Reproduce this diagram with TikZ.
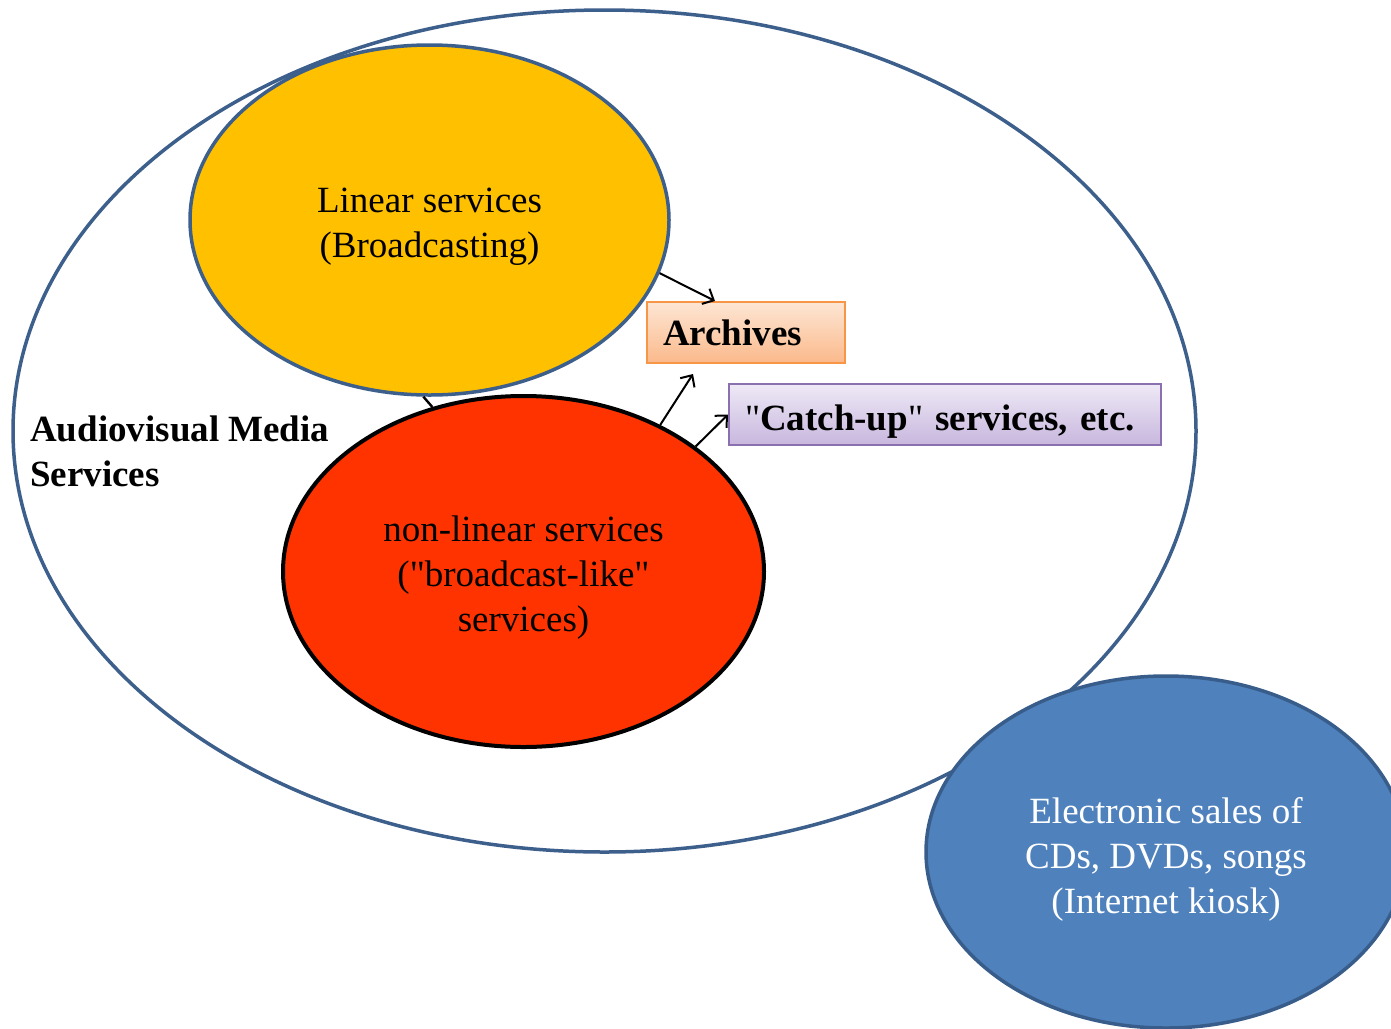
\documentclass[tikz,border=0pt]{standalone}
\usepackage{fontspec}
\setmainfont{Liberation Serif}
\usetikzlibrary{shapes.geometric,arrows.meta}
\definecolor{bigline}{HTML}{3C5F8C}
\definecolor{orangefill}{HTML}{FFC000}
\definecolor{redfill}{HTML}{FF3300}
\definecolor{bluefill}{HTML}{4F81BD}
\definecolor{blueline}{HTML}{385D8A}
\definecolor{archtop}{HTML}{FDE6D4}
\definecolor{archbot}{HTML}{FBB98B}
\definecolor{archline}{HTML}{F79646}
\definecolor{cutop}{HTML}{EEE9F6}
\definecolor{cubot}{HTML}{C8B7DE}
\definecolor{culine}{HTML}{8A70AE}
\tikzset{
  every node/.style={font=\fontsize{37}{45}\selectfont},
  ell/.style={ellipse, inner sep=0pt, line width=3.5pt},
  txt/.style={inner sep=0pt, align=center},
  labelbox/.style={rectangle, line width=2pt, minimum height=61pt, inner xsep=16pt, inner ysep=0pt, align=left, font=\fontsize{37}{45}\selectfont\bfseries},
  conn/.style={line width=2pt, -{Straight Barb[length=9pt,width=17pt,line width=2pt]}},
  plain/.style={line width=2.4pt}
}
\begin{document}
\begin{tikzpicture}[x=1pt,y=-1pt]
\clip (0,0) rectangle (1391,1028);
\fill[white] (0,0) rectangle (1391,1028);
% big ellipse
\node[ell, draw=bigline, fill=white, minimum width=1183pt, minimum height=842pt] (big) at (604.5,431) {};
% orange ellipse
\node[ell, draw=bigline, fill=orangefill, minimum width=479pt, minimum height=350pt] (linear) at (429.5,220) {};
\node[txt] (lineartext) at ([yshift=-7pt]linear.center) {Linear services\\(Broadcasting)};
% red ellipse
\node[ell, draw=black, line width=4pt, fill=redfill, minimum width=481pt, minimum height=351pt] (nonlinear) at (523.5,571.5) {};
\node[txt] (nonlineartext) at ([yshift=-6pt]nonlinear.center) {non-linear services\\(\textquotedbl broadcast-like\textquotedbl\\services)};
% blue ellipse
\node[ell, draw=blueline, fill=bluefill, minimum width=480pt, minimum height=352pt] (sales) at (1166,852) {};
\node[txt, text=white] (salestext) at ([yshift=-7pt]sales.center) {Electronic sales of\\CDs, DVDs, songs\\(Internet kiosk)};
% label
\node[anchor=west, inner sep=0pt, align=left, font=\fontsize{37}{45}\selectfont\bfseries] (avms) at (30,451) {Audiovisual Media\\Services};
% boxes
\node[labelbox, draw=archline, top color=archtop, bottom color=archbot, text width=166pt] (archives) at (746,332.5) {Archives};
\node[labelbox, draw=culine, top color=cutop, bottom color=cubot, text width=400pt, text height=31pt, text depth=0pt] (catchup) at (945,414.5) {{\mdseries\textquotedbl}Catch-up{\mdseries\textquotedbl} services, etc.};
% connectors
\coordinate (a1) at (715,301);
\coordinate (a2) at (693,374);
\draw[conn] (linear.-13.4) -- (a1);
\draw[conn] (nonlinear.47.9) -- (a2);
\draw[conn] (nonlinear.36.6) -- (catchup.west);
\draw[plain] (linear.-92.7) -- (nonlinear.119.4);
\end{tikzpicture}
\end{document}
